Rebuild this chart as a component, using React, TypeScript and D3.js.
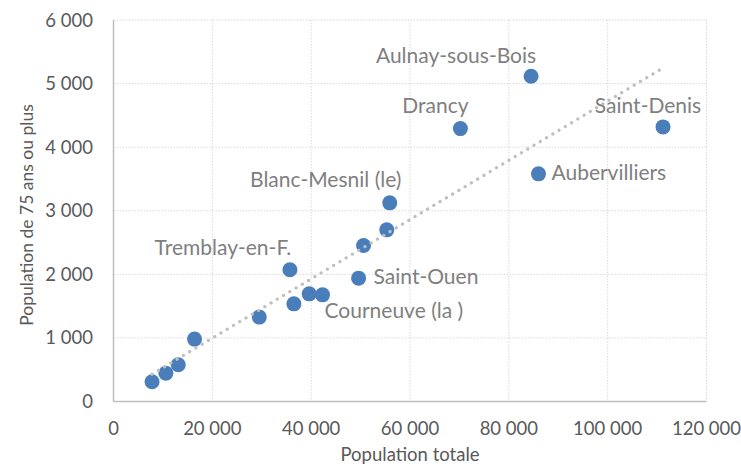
import React from "react";
import * as d3 from "d3";

const communes = [
  "", "", "", "", "", "Tremblay-en-F.", "", "", "Courneuve (la )", "Saint-Ouen",
  "", "", "Blanc-Mesnil (le)", "Drancy", "Aulnay-sous-Bois", "Aubervilliers", "Saint-Denis",
];
const populationTotale = [
  7800, 10600, 13100, 16400, 29500, 35700, 36500, 39600, 42300, 49600,
  50600, 55300, 55900, 70200, 84500, 86000, 111200,
];
const population75Plus = [
  310, 446, 577, 981, 1327, 2071, 1536, 1693, 1677, 1940,
  2453, 2700, 3124, 4292, 5116, 3580, 4319,
];
const xTicks = [0, 20000, 40000, 60000, 80000, 100000, 120000];
const yTicks = [0, 1000, 2000, 3000, 4000, 5000, 6000];

// label placement (layout only): [dx, dy(baseline), anchor]
const labelPlacement: Record<string, [number, number, string]> = {
  "Tremblay-en-F.": [-67, -15, "middle"],
  "Courneuve (la )": [2, 23, "start"],
  "Saint-Ouen": [15, 6, "start"],
  "Blanc-Mesnil (le)": [-64, -16, "middle"],
  "Drancy": [-25, -16, "middle"],
  "Aulnay-sous-Bois": [-75, -13, "middle"],
  "Aubervilliers": [13, 6, "start"],
  "Saint-Denis": [-15, -14, "middle"],
};

const fmt = (v: number) => d3.format(",")(v).replace(/,/g, " ");

export default function App() {
  const W = 741, H = 467;
  const x = d3.scaleLinear().domain([0, 120000]).range([113.5, 706.5]);
  const y = d3.scaleLinear().domain([0, 6000]).range([401.5, 20]);
  const font = "Lato, 'Open Sans', sans-serif";

  // least squares trendline
  const n = populationTotale.length;
  const mx = d3.mean(populationTotale)!;
  const my = d3.mean(population75Plus)!;
  let sxy = 0, sxx = 0;
  for (let i = 0; i < n; i++) {
    sxy += (populationTotale[i] - mx) * (population75Plus[i] - my);
    sxx += (populationTotale[i] - mx) ** 2;
  }
  const slope = sxy / sxx;
  const intercept = my - slope * mx;
  const x0 = d3.min(populationTotale)!;
  const x1 = d3.max(populationTotale)!;
  const trend = d3.line<number>().x((v) => x(v)).y((v) => y(intercept + slope * v))([x0, x1]);

  return (
    <svg width={W} height={H} style={{ position: "absolute", left: 0, top: 0, background: "#fff" }}>
      {/* grid */}
      {xTicks.filter((t) => t > 0).map((t) => (
        <line key={"gx" + t} x1={x(t)} x2={x(t)} y1={y(6000)} y2={y(0)} stroke="#d9d9d9" strokeWidth={1} strokeDasharray="1.5 1.5" />
      ))}
      {yTicks.filter((t) => t > 0).map((t) => (
        <line key={"gy" + t} x1={x(0)} x2={x(120000)} y1={y(t)} y2={y(t)} stroke="#d9d9d9" strokeWidth={1} strokeDasharray="1.5 1.5" />
      ))}
      {/* axes */}
      <line x1={x(0)} x2={x(0)} y1={y(6000)} y2={y(0)} stroke="#bfbfbf" strokeWidth={1.5} />
      <line x1={x(0)} x2={x(120000)} y1={y(0)} y2={y(0)} stroke="#bfbfbf" strokeWidth={1.5} />
      {/* tick labels */}
      {xTicks.map((t) => (
        <text key={"tx" + t} x={x(t)} y={435} textAnchor="middle" fontFamily={font} fontSize={18.5} fill="#595959">{fmt(t)}</text>
      ))}
      {yTicks.map((t) => (
        <text key={"ty" + t} x={93} y={y(t) + 6.5} textAnchor="end" fontFamily={font} fontSize={18.5} fill="#595959">{fmt(t)}</text>
      ))}
      {/* axis titles */}
      <text x={410} y={461} textAnchor="middle" fontFamily={font} fontSize={18.5} fill="#595959">Population totale</text>
      <text transform={`translate(33,${215}) rotate(-90)`} textAnchor="middle" fontFamily={font} fontSize={17.5} fill="#595959">Population de 75 ans ou plus</text>
      {/* points */}
      {populationTotale.map((v, i) => (
        <circle key={"p" + i} cx={x(v)} cy={y(population75Plus[i])} r={7.5} fill="#4a7ebb" />
      ))}
      {/* trendline */}
      <path d={trend || ""} fill="none" stroke="#bfbfbf" strokeWidth={3.2} strokeLinecap="round" strokeDasharray="0.1 7.2" />
      {/* labels */}
      {communes.map((c, i) => {
        if (!c) return null;
        const [dx, dy, anchor] = labelPlacement[c];
        return (
          <text key={"l" + i} x={x(populationTotale[i]) + dx} y={y(population75Plus[i]) + dy} textAnchor={anchor as any}
            fontFamily={font} fontSize={21} fill="#7f7f7f">{c}</text>
        );
      })}
    </svg>
  );
}
